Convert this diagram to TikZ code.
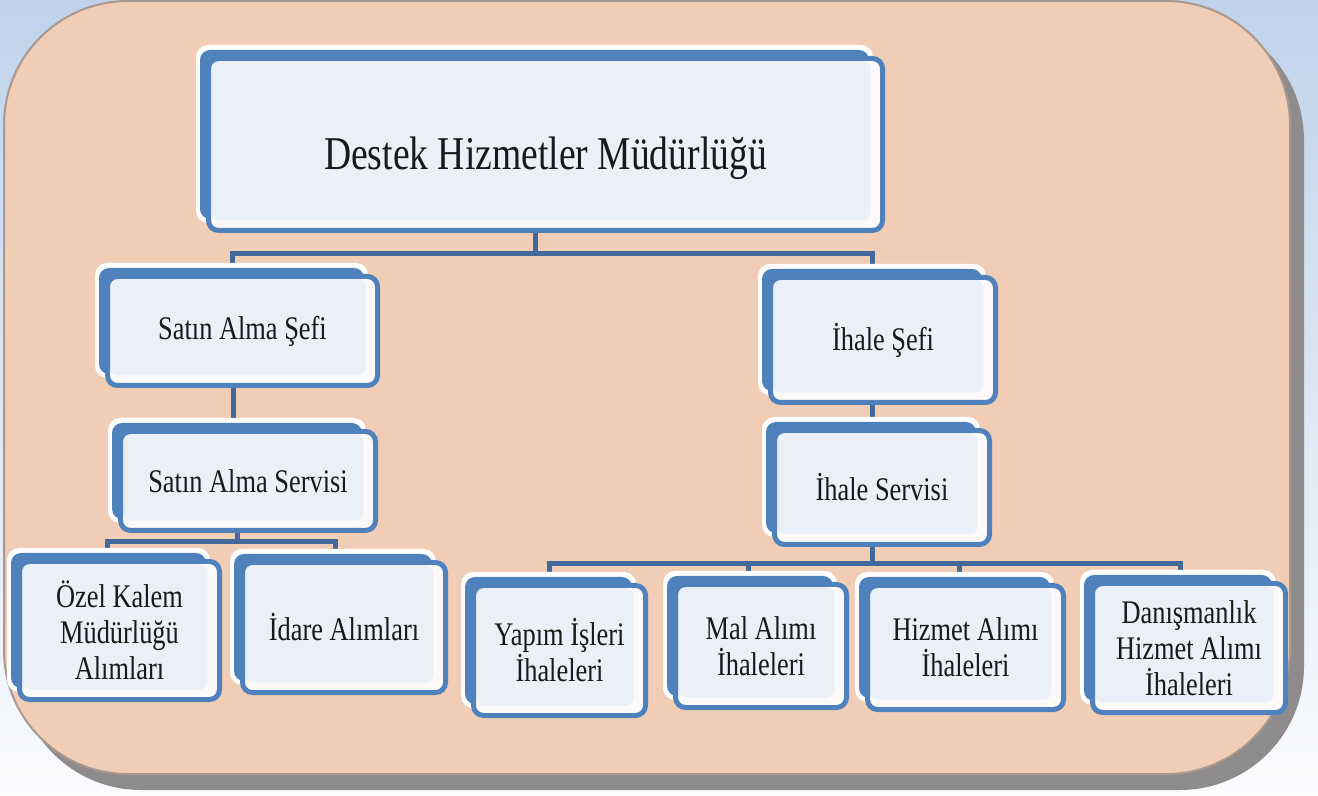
\documentclass[tikz,border=0pt]{standalone}
\usepackage{fontspec}
\newfontfamily\tnr[FakeStretch=0.8]{Liberation Serif}
\definecolor{bgtop}{HTML}{C0D3EA}
\definecolor{bgmid}{HTML}{E4ECF6}
\definecolor{bgbot}{HTML}{FAFBFD}
\definecolor{panel}{HTML}{F1CDB5}
\definecolor{panelborder}{HTML}{A8988F}
\definecolor{shadowgray}{HTML}{8E8B8D}
\definecolor{boxblue}{HTML}{4F81BD}
\definecolor{connblue}{HTML}{41699C}
\definecolor{lightfill}{HTML}{EBF0F8}
\definecolor{bandwhite}{HTML}{FCFAF9}
\pgfdeclarelayer{bg}
\pgfdeclarelayer{conn}
\pgfsetlayers{bg,conn,main}
\tikzset{
  frontbox/.style={draw=boxblue, line width=2.5pt, fill=bandwhite, rounded corners=5pt,
    inner sep=0pt, align=center, text=black!90,
    font={\tnr\fontsize{16.5}{18}\selectfont},
    path picture={\fill[lightfill, rounded corners=4pt]
      ([shift={(1.25pt,-1.25pt)}]path picture bounding box.north west) rectangle
      ([shift={(-6pt,5pt)}]path picture bounding box.south east);}},
  conn/.style={draw=connblue, line width=2.5pt},
  titlefont/.style={font={\tnr\fontsize{23.5}{26}\selectfont}}
}
\newcommand\obox[7]{%
  \fill[white, rounded corners=6pt] (#2,#3) rectangle (#4-12,#5-10);
  \fill[boxblue, rounded corners=5pt] (#2+4,#3+5) rectangle (#4-16,#5-14);
  \node[frontbox, #6, minimum width={(#4-#2-15)*0.5pt}, minimum height={(#5-#3-16)*0.5pt}]
    (#1) at ({(#2+10+#4)/2},{(#3+11+#5)/2}) {#7};
}
\begin{document}
\begin{tikzpicture}[x=0.5pt, y=-0.5pt]
\useasboundingbox (0,0) rectangle (1318,796);
\begin{pgfonlayer}{bg}
  \shade[top color=bgtop, middle color=bgmid, bottom color=bgbot] (0,0) rectangle (1318,796);
  \fill[shadowgray, rounded corners=62pt] (17,16) rectangle (1304,790);
  \filldraw[fill=panel, draw=panelborder, line width=1pt, rounded corners=62pt] (4,1) rectangle (1290,774);
\end{pgfonlayer}

\obox{main}{196}{45}{885}{233}{titlefont, text height=30pt, text depth=5pt}{Destek Hizmetler Müdürlüğü}
\obox{sefA}{95}{263}{380}{388}{}{Satın Alma Şefi}
\obox{servA}{108}{418}{378}{533}{}{Satın Alma Servisi}
\obox{ozel}{7}{548}{222}{702}{}{Özel Kalem\\Müdürlüğü\\Alımları}
\obox{idare}{230}{549}{448}{695}{}{İdare Alımları}
\obox{sefB}{758}{264}{998}{405}{}{İhale Şefi}
\obox{servB}{762}{417}{992}{547}{}{İhale Servisi}
\obox{yapim}{461}{572}{648}{718}{}{Yapım İşleri\\İhaleleri}
\obox{mal}{663}{571}{849}{710}{}{Mal Alımı\\İhaleleri}
\obox{hizmet}{855}{572}{1066}{712}{}{Hizmet Alımı\\İhaleleri}
\obox{danis}{1080}{570}{1288}{715}{}{Danışmanlık\\Hizmet Alımı\\İhaleleri}

\begin{pgfonlayer}{conn}
  \coordinate (b1) at (535,254);
  \draw[conn] (b1 |- main.south) -- (b1) -| ([xshift=-5pt]sefA.north);
  \draw[conn] (b1) -| ([xshift=-5.5pt]sefB.north);
  \draw[conn] ([xshift=-4.5pt]sefA.south) -- ([xshift=-4.5pt]sefA.south |- servA.north);
  \draw[conn] ([xshift=-5.5pt]sefB.south) -- ([xshift=-5.5pt]sefB.south |- servB.north);
  \coordinate (b2) at (237,542);
  \draw[conn] (b2 |- servA.south) -- (b2) -| ([xshift=-6pt]ozel.north);
  \draw[conn] (b2) -| ([xshift=-4.5pt]idare.north);
  \coordinate (b3) at (872,564);
  \draw[conn] (b3 |- servB.south) -- (b3) -| ([xshift=-5pt]yapim.north);
  \draw[conn] (b3) -| ([xshift=-6.5pt]mal.north);
  \draw[conn] (b3) -| ([xshift=-3pt]hizmet.north);
  \draw[conn] (b3) -| ([xshift=-4.5pt]danis.north);
\end{pgfonlayer}
\end{tikzpicture}
\end{document}
